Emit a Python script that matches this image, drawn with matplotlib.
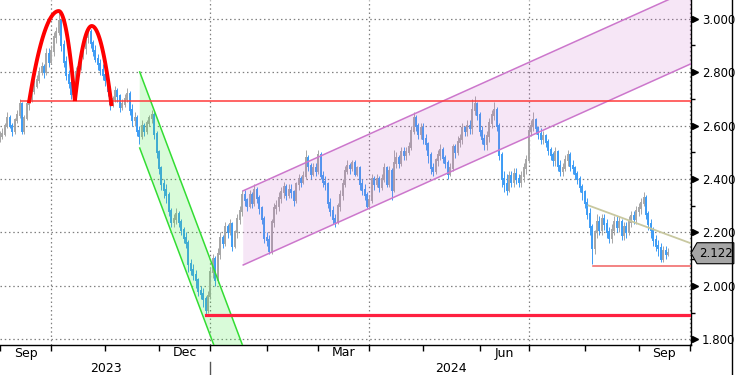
import numpy as np
import pandas as pd
import matplotlib
matplotlib.use("Agg")
import matplotlib.pyplot as plt
import matplotlib.transforms as mtransforms
from matplotlib.patches import Polygon
from matplotlib.lines import Line2D

# daily bars, one per business day starting 2023-09-01 (open = previous close)
start_date = "2023-09-01"
first_open = 2.55
close = [
    # Sep 2023
    2.56, 2.57, 2.60, 2.63, 2.60, 2.58, 2.62, 2.64, 2.68, 2.58, 2.63, 2.68, 2.70, 2.73, 2.75, 2.77, 2.80, 2.82, 2.80, 2.87, 2.84,
    # Oct
    2.88, 2.93, 2.95, 2.99, 2.90, 2.84, 2.79, 2.76, 2.72, 2.76, 2.80, 2.82, 2.86, 2.89, 2.93, 2.95, 2.91, 2.88, 2.85, 2.83, 2.81, 2.79,
    # Nov
    2.77, 2.73, 2.68, 2.70, 2.73, 2.71, 2.67, 2.68, 2.70, 2.72, 2.66, 2.62, 2.63, 2.58, 2.56, 2.60, 2.58, 2.61, 2.63, 2.64, 2.57, 2.50,
    # Dec
    2.44, 2.38, 2.36, 2.34, 2.28, 2.24, 2.25, 2.27, 2.24, 2.21, 2.18, 2.16, 2.08, 2.06, 2.04, 2.02, 1.98, 1.97, 1.95, 1.91, 1.96,
    # Jan 2024
    2.05, 2.10, 2.02, 2.12, 2.18, 2.16, 2.22, 2.20, 2.23, 2.15, 2.20, 2.25, 2.28, 2.34, 2.32, 2.30, 2.34, 2.31, 2.36, 2.33, 2.29, 2.25, 2.18,
    # Feb
    2.17, 2.13, 2.24, 2.29, 2.30, 2.33, 2.35, 2.37, 2.34, 2.36, 2.35, 2.32, 2.38, 2.40, 2.39, 2.41, 2.48, 2.45, 2.42, 2.44, 2.43,
    # Mar
    2.49, 2.41, 2.39, 2.38, 2.31, 2.28, 2.25, 2.24, 2.30, 2.34, 2.38, 2.43, 2.45, 2.44, 2.46, 2.42, 2.44, 2.38, 2.36, 2.34, 2.30,
    # Apr
    2.32, 2.40, 2.38, 2.40, 2.37, 2.40, 2.44, 2.38, 2.43, 2.36, 2.46, 2.48, 2.46, 2.50, 2.49, 2.50, 2.52, 2.58, 2.63, 2.60, 2.57, 2.59,
    # May
    2.55, 2.53, 2.49, 2.44, 2.43, 2.47, 2.49, 2.51, 2.48, 2.46, 2.42, 2.44, 2.52, 2.50, 2.54, 2.55, 2.59, 2.58, 2.60, 2.59, 2.66, 2.68, 2.64,
    # Jun
    2.58, 2.55, 2.53, 2.56, 2.61, 2.64, 2.66, 2.60, 2.49, 2.40, 2.38, 2.36, 2.41, 2.39, 2.42, 2.40, 2.39, 2.41, 2.44, 2.47,
    # Jul
    2.58, 2.60, 2.62, 2.59, 2.57, 2.55, 2.56, 2.54, 2.51, 2.49, 2.47, 2.50, 2.45, 2.43, 2.44, 2.47, 2.49, 2.45, 2.44, 2.42, 2.40, 2.37, 2.35,
    # Aug
    2.31, 2.27, 2.22, 2.14, 2.20, 2.24, 2.21, 2.25, 2.23, 2.20, 2.18, 2.21, 2.24, 2.22, 2.24, 2.19, 2.22, 2.20, 2.24, 2.26, 2.25, 2.28,
    # Sep
    2.29, 2.31, 2.33, 2.27, 2.23, 2.21, 2.17, 2.15, 2.14, 2.10, 2.13, 2.12, 2.122,
]
high = [
    2.58, 2.59, 2.61, 2.65, 2.64, 2.61, 2.63, 2.66, 2.70, 2.69, 2.64, 2.69, 2.72, 2.74, 2.77, 2.79, 2.82, 2.84, 2.83, 2.89, 2.89,
    2.90, 2.95, 2.97, 3.02, 3.00, 2.92, 2.86, 2.81, 2.78, 2.78, 2.82, 2.84, 2.88, 2.91, 2.94, 2.97, 2.96, 2.92, 2.90, 2.87, 2.85, 2.83,
    2.81, 2.78, 2.74, 2.71, 2.75, 2.74, 2.72, 2.70, 2.72, 2.74, 2.73, 2.68, 2.65, 2.64, 2.60, 2.62, 2.61, 2.62, 2.64, 2.66, 2.65, 2.58,
    2.51, 2.45, 2.40, 2.38, 2.35, 2.29, 2.27, 2.29, 2.28, 2.25, 2.22, 2.20, 2.17, 2.10, 2.08, 2.06, 2.03, 2.00, 1.99, 1.96, 1.98,
    2.07, 2.12, 2.11, 2.14, 2.20, 2.19, 2.24, 2.23, 2.25, 2.24, 2.21, 2.27, 2.30, 2.36, 2.36, 2.33, 2.36, 2.35, 2.38, 2.37, 2.34, 2.30, 2.26,
    2.20, 2.19, 2.25, 2.31, 2.32, 2.35, 2.37, 2.39, 2.38, 2.38, 2.38, 2.36, 2.39, 2.42, 2.41, 2.43, 2.51, 2.49, 2.46, 2.46, 2.46,
    2.51, 2.50, 2.43, 2.41, 2.39, 2.33, 2.30, 2.27, 2.31, 2.36, 2.40, 2.45, 2.47, 2.46, 2.47, 2.47, 2.45, 2.45, 2.40, 2.38, 2.35,
    2.34, 2.42, 2.41, 2.42, 2.41, 2.42, 2.46, 2.45, 2.45, 2.44, 2.51, 2.50, 2.49, 2.52, 2.52, 2.52, 2.54, 2.60, 2.65, 2.64, 2.61, 2.61,
    2.61, 2.57, 2.54, 2.50, 2.46, 2.48, 2.51, 2.53, 2.52, 2.49, 2.47, 2.46, 2.53, 2.53, 2.56, 2.57, 2.61, 2.60, 2.62, 2.62, 2.70, 2.71, 2.69,
    2.65, 2.60, 2.57, 2.58, 2.63, 2.66, 2.69, 2.67, 2.61, 2.50, 2.43, 2.42, 2.43, 2.43, 2.44, 2.44, 2.42, 2.43, 2.46, 2.49,
    2.60, 2.62, 2.65, 2.63, 2.60, 2.59, 2.58, 2.57, 2.55, 2.52, 2.50, 2.52, 2.51, 2.47, 2.46, 2.49, 2.51, 2.50, 2.47, 2.45, 2.43, 2.41, 2.38,
    2.36, 2.33, 2.29, 2.23, 2.21, 2.27, 2.26, 2.27, 2.27, 2.25, 2.22, 2.23, 2.26, 2.26, 2.26, 2.25, 2.24, 2.24, 2.26, 2.28, 2.28, 2.30,
    2.31, 2.33, 2.35, 2.34, 2.28, 2.25, 2.22, 2.19, 2.17, 2.16, 2.15, 2.15, 2.14,
]
low = [
    2.54, 2.55, 2.56, 2.59, 2.59, 2.56, 2.57, 2.61, 2.63, 2.57, 2.57, 2.62, 2.66, 2.69, 2.72, 2.74, 2.76, 2.79, 2.78, 2.79, 2.82,
    2.83, 2.86, 2.91, 2.94, 2.88, 2.82, 2.77, 2.74, 2.70, 2.71, 2.75, 2.78, 2.81, 2.85, 2.87, 2.91, 2.89, 2.86, 2.84, 2.81, 2.79, 2.77,
    2.75, 2.71, 2.66, 2.67, 2.69, 2.69, 2.65, 2.66, 2.67, 2.69, 2.64, 2.60, 2.60, 2.56, 2.53, 2.55, 2.56, 2.57, 2.60, 2.61, 2.55, 2.48,
    2.42, 2.36, 2.33, 2.31, 2.26, 2.22, 2.22, 2.23, 2.22, 2.19, 2.16, 2.14, 2.05, 2.04, 2.02, 1.99, 1.96, 1.95, 1.92, 1.89, 1.90,
    1.95, 2.03, 2.00, 2.01, 2.10, 2.14, 2.15, 2.18, 2.19, 2.13, 2.14, 2.18, 2.23, 2.26, 2.30, 2.28, 2.29, 2.29, 2.30, 2.31, 2.27, 2.23, 2.16,
    2.15, 2.12, 2.12, 2.22, 2.27, 2.28, 2.31, 2.33, 2.32, 2.33, 2.33, 2.30, 2.31, 2.36, 2.37, 2.38, 2.40, 2.43, 2.40, 2.41, 2.41,
    2.42, 2.40, 2.37, 2.36, 2.29, 2.26, 2.23, 2.22, 2.23, 2.28, 2.32, 2.37, 2.42, 2.42, 2.43, 2.41, 2.41, 2.36, 2.34, 2.32, 2.29,
    2.29, 2.31, 2.36, 2.37, 2.35, 2.36, 2.39, 2.37, 2.37, 2.32, 2.35, 2.44, 2.44, 2.45, 2.47, 2.47, 2.49, 2.51, 2.57, 2.58, 2.55, 2.55,
    2.53, 2.51, 2.46, 2.42, 2.41, 2.42, 2.45, 2.47, 2.46, 2.44, 2.40, 2.41, 2.43, 2.48, 2.49, 2.52, 2.53, 2.56, 2.56, 2.57, 2.57, 2.64, 2.62,
    2.56, 2.53, 2.51, 2.51, 2.54, 2.59, 2.62, 2.58, 2.47, 2.37, 2.35, 2.34, 2.35, 2.37, 2.37, 2.38, 2.37, 2.37, 2.39, 2.42,
    2.46, 2.56, 2.58, 2.57, 2.55, 2.53, 2.53, 2.52, 2.49, 2.47, 2.45, 2.45, 2.43, 2.41, 2.41, 2.43, 2.45, 2.43, 2.42, 2.40, 2.38, 2.35, 2.32,
    2.29, 2.25, 2.19, 2.08, 2.12, 2.18, 2.19, 2.19, 2.21, 2.18, 2.16, 2.16, 2.19, 2.20, 2.20, 2.17, 2.17, 2.18, 2.19, 2.22, 2.23, 2.23,
    2.26, 2.27, 2.30, 2.25, 2.21, 2.18, 2.15, 2.13, 2.11, 2.09, 2.09, 2.10, 2.11,
]
last_price = 2.122

y_ticks = [1.8, 2.0, 2.2, 2.4, 2.6, 2.8, 3.0]
month_labels = {(2023, 9): "Sep", (2023, 12): "Dec", (2024, 3): "Mar", (2024, 6): "Jun", (2024, 9): "Sep"}
year_labels = ["2023", "2024"]

# drawn annotations (x in business-day index, y in yield)
neckline = 2.692
neckline_start = 8.6
arches = [(11.8, 2.684, 24.0, 3.029, 30.6, 2.692),
          (30.6, 2.692, 37.5, 2.973, 45.6, 2.673)]
green_x0, green_top, green_bot, green_slope = 57.1, 2.801, 2.516, -0.02436
purple_x0, purple_top, purple_bot, purple_slope = 99.4, 2.356, 2.078, 0.004118
support_big = (84.0, 1.891)
support_small = (242.5, 2.075)
trend_start = (240.5, 2.301)
trend_end = (282.4, 2.159)

x_lo, x_hi = 0.8, 282.4
y_lo, y_hi = 1.7783, 3.0704

fig = plt.figure(figsize=(7.35, 3.75), dpi=100)
ax = fig.add_axes([0, 30 / 375, 691 / 735, 345 / 375])

n = len(close)
assert len(high) == n and len(low) == n
x = np.arange(n)
opens = np.array([first_open] + close[:-1])
closes = np.array(close)
highs = np.array(high)
lows = np.array(low)
up = closes >= opens
blue = "#3d9cf5"
gray = "#a6a6a6"
for mask, col in [(up, gray), (~up, blue)]:
    ax.vlines(x[mask], lows[mask], highs[mask], color=col, lw=0.7, zorder=3)
    bodies = ax.vlines(x[mask], opens[mask], closes[mask], color=col, lw=1.4, zorder=3)
    bodies.set_capstyle("projecting")

# green falling channel
gx = np.array([green_x0, 115])
g_top = green_top + green_slope * (gx - green_x0)
g_bot = green_bot + green_slope * (gx - green_x0)
ax.add_patch(Polygon([(gx[0], g_top[0]), (gx[1], g_top[1]), (gx[1], g_bot[1]), (gx[0], g_bot[0])],
                     closed=True, facecolor="#44ee44", alpha=0.2, edgecolor="none", zorder=4))
ax.plot(gx, g_top, color="#33dd33", lw=1.1, zorder=5)
ax.plot(gx, g_bot, color="#33dd33", lw=1.1, zorder=5)

# purple rising channel
px = np.array([purple_x0, 300])
p_top = purple_top + purple_slope * (px - purple_x0)
p_bot = purple_bot + purple_slope * (px - purple_x0)
ax.add_patch(Polygon([(px[0], p_top[0]), (px[1], p_top[1]), (px[1], p_bot[1]), (px[0], p_bot[0])],
                     closed=True, facecolor="#cc66cc", alpha=0.16, edgecolor="none", zorder=4))
ax.plot(px, p_top, color="#cc77cc", lw=1.1, zorder=5)
ax.plot(px, p_bot, color="#cc77cc", lw=1.1, zorder=5)

# horizontal levels and trend line
ax.plot([neckline_start, x_hi + 5], [neckline, neckline], color="#ff3b3b", lw=1.3, alpha=0.85, zorder=6)
ax.plot([support_big[0], x_hi + 5], [support_big[1]] * 2, color="#ff2040", lw=2.3, zorder=6)
ax.plot([support_small[0], x_hi + 5], [support_small[1]] * 2, color="#f06060", lw=1.1, zorder=6)
ax.plot([trend_start[0], trend_end[0]], [trend_start[1], trend_end[1]], color="#c8c8a0", lw=1.3, zorder=6)

# double top arches
for x0, y0, xp, yp, x1, y1 in arches:
    xl = np.linspace(x0, xp, 40)
    yl = y0 + (yp - y0) * (1 - ((xl - xp) / (x0 - xp)) ** 2)
    xr = np.linspace(xp, x1, 40)
    yr = y1 + (yp - y1) * (1 - ((xr - xp) / (x1 - xp)) ** 2)
    ax.plot(np.r_[xl, xr], np.r_[yl, yr], color="#ff0000", lw=2.8, solid_capstyle="butt", zorder=7)

ax.set_xlim(x_lo, x_hi)
ax.set_ylim(y_lo, y_hi)

# axes styling
for side in ["top", "left"]:
    ax.spines[side].set_visible(False)
ax.spines["right"].set_linewidth(1)
ax.spines["bottom"].set_linewidth(1)

days = pd.bdate_range(start_date, "2024-10-31")
month_start = [i for i in range(len(days)) if i == 0 or days[i].month != days[i - 1].month]
ticks = [m for m in month_start if m <= x_hi]
ax.set_xticks(ticks)
ax.set_xticklabels([])
ax.tick_params(axis="x", direction="out", length=4, width=1, color="black")

grid_kw = dict(color="#808080", lw=0.9, ls=(0, (1.2, 2.2)), zorder=1)
for m in month_start:
    if days[m].month in (1, 4, 7, 10) and x_lo < m < x_hi:
        ax.axvline(m, **grid_kw)
for v in y_ticks:
    ax.axhline(v, **grid_kw)

ax.yaxis.tick_right()
ax.set_yticks(y_ticks)
ax.set_yticklabels(["%.3f" % v for v in y_ticks], fontsize=8.5)
ax.set_yticks(np.arange(1.9, 3.05, 0.2), minor=True)
ax.tick_params(axis="y", which="major", length=0, pad=8)
ax.tick_params(axis="y", which="minor", length=3, width=1, direction="out")
ytrans = mtransforms.blended_transform_factory(ax.transAxes, ax.transData)
ax.plot([1.006] * len(y_ticks), y_ticks, ls="none", marker=">", ms=4.5, color="black",
        transform=ytrans, clip_on=False)

# month and year labels
xfig = mtransforms.blended_transform_factory(ax.transData, fig.transFigure)
for k, m in enumerate(month_start[:-1]):
    key = (days[m].year, days[m].month)
    if key in month_labels:
        mid = (m + month_start[k + 1]) / 2
        ax.text(mid, 1 - 353 / 375, month_labels[key], transform=xfig, ha="center", va="center", fontsize=9)
jan = month_start[4]
ax.text((x_lo + jan) / 2, 1 - 369 / 375, year_labels[0], transform=xfig, ha="center", va="center", fontsize=9)
ax.text((jan + x_hi) / 2, 1 - 369 / 375, year_labels[1], transform=xfig, ha="center", va="center", fontsize=9)
fig.add_artist(Line2D([jan, jan], [0, 1 - 362 / 375], transform=xfig, color="#555555", lw=1))

# last price tag
h = 10.5 / 267
tag = Polygon([(1.0, last_price), (1.0087, last_price + h), (1.062, last_price + h),
               (1.062, last_price - h), (1.0087, last_price - h)],
              closed=True, facecolor="#a6a6a6", edgecolor="black", lw=0.8,
              transform=ytrans, clip_on=False, zorder=10)
ax.add_patch(tag)
ax.text(1.036, last_price, "%.3f" % last_price, transform=ytrans, ha="center", va="center",
        fontsize=8.5, zorder=11, clip_on=False)

fig.add_artist(Line2D([732 / 735, 732 / 735], [0, 1], transform=fig.transFigure, color="black", lw=1))

fig.savefig("out.png", dpi=100)
